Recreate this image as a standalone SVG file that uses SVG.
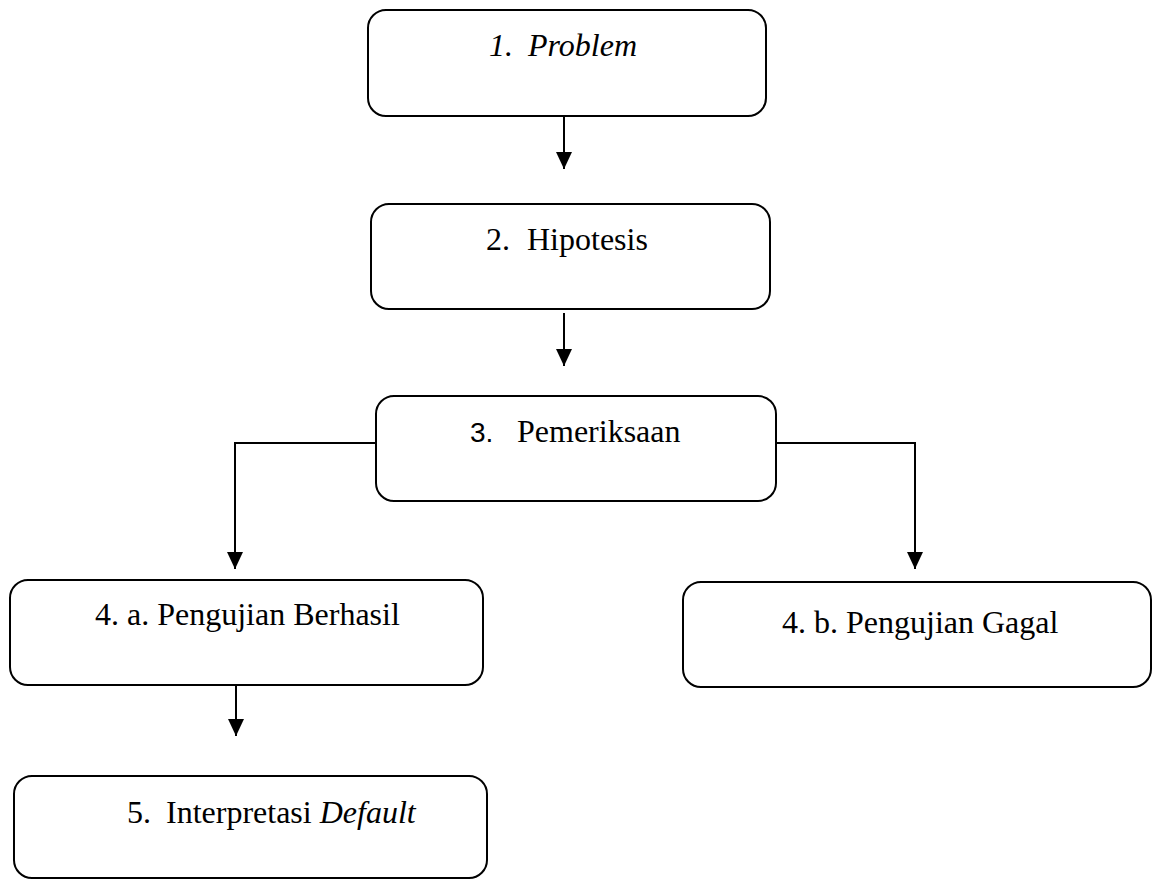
<svg xmlns="http://www.w3.org/2000/svg" width="1152" height="879" viewBox="0 0 1152 879">
<style>
.box{fill:#fff;stroke:#000;stroke-width:2}
.t{font-family:"Liberation Serif","Times New Roman",serif;font-size:32px;fill:#000}
.i{font-style:italic}
.s{font-family:"Liberation Sans",Arial,sans-serif;font-size:28px}
.c{fill:none;stroke:#000;stroke-width:2}
</style>
<defs>
<marker id="ad" markerUnits="userSpaceOnUse" markerWidth="18" markerHeight="18" refX="9" refY="17" orient="0" viewBox="0 0 18 18">
<path d="M1 0 L17 0 L9 17 Z" fill="#000"/>
</marker>
</defs>
<rect width="1152" height="879" fill="#fff"/>
<g id="connectors">
<path class="c" d="M564 116 V169" marker-end="url(#ad)"/>
<path class="c" d="M564 313 V366" marker-end="url(#ad)"/>
<path class="c" d="M376 443 H235 V569" marker-end="url(#ad)"/>
<path class="c" d="M776 443 H915 V569" marker-end="url(#ad)"/>
<path class="c" d="M236 683 V736" marker-end="url(#ad)"/>
</g>
<g id="n1">
<rect class="box" x="368" y="10" width="398" height="106" rx="18"/>
<text class="t i" y="56"><tspan x="489">1.</tspan><tspan x="528">Problem</tspan></text>
</g>
<g id="n2">
<rect class="box" x="371" y="204" width="399" height="105" rx="18"/>
<text class="t" y="250"><tspan x="486">2.</tspan><tspan x="527">Hipotesis</tspan></text>
</g>
<g id="n3">
<rect class="box" x="376" y="396" width="400" height="105" rx="18"/>
<text class="t" y="442"><tspan class="s" x="470">3.</tspan><tspan x="517">Pemeriksaan</tspan></text>
</g>
<g id="n4a">
<rect class="box" x="10" y="580" width="473" height="105" rx="18"/>
<text class="t" x="95" y="625">4. a. Pengujian Berhasil</text>
</g>
<g id="n4b">
<rect class="box" x="683" y="582" width="468" height="105" rx="18"/>
<text class="t" x="782" y="633">4. b. Pengujian Gagal</text>
</g>
<g id="n5">
<rect class="box" x="14" y="776" width="473" height="102" rx="18"/>
<text class="t" y="823"><tspan x="127">5.</tspan><tspan x="166">Interpretasi </tspan><tspan class="i">Default</tspan></text>
</g>
</svg>
